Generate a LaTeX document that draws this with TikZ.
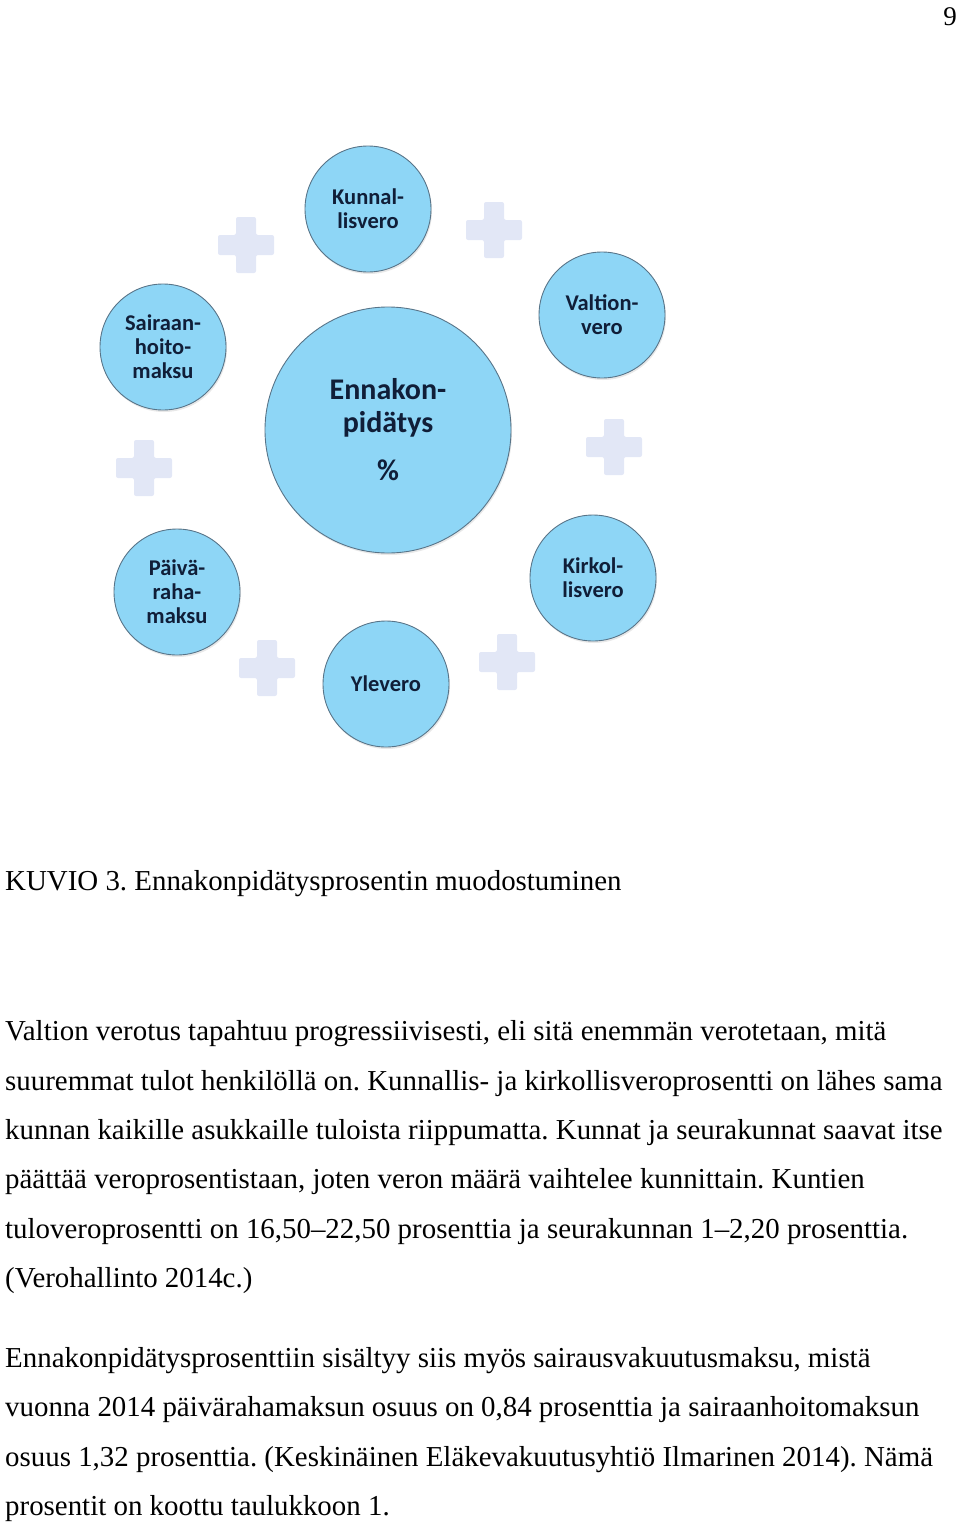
\documentclass[tikz,border=0pt]{standalone}
\usepackage{fontspec}
\setmainfont{Liberation Serif}
\newfontfamily\circfont{Carlito}
\usetikzlibrary{shadows}
\definecolor{circfill}{RGB}{142,214,246}
\definecolor{circline}{RGB}{88,116,136}
\definecolor{circtext}{RGB}{16,30,56}
\definecolor{plusfill}{RGB}{226,231,246}
\frenchspacing

\begin{document}
\begin{tikzpicture}[x=1pt,y=-1pt,
    taxcirc/.style={circle,draw=circline,line width=0.9pt,fill=circfill,inner sep=0pt,
      minimum size=126pt,align=center,text=circtext,
      font=\circfont\bfseries\fontsize{22.5}{24}\selectfont,
      drop shadow={shadow xshift=1pt,shadow yshift=-2pt,opacity=0.18}},
    bigcirc/.style={taxcirc,minimum size=246pt,font=\circfont\bfseries\fontsize{30}{33}\selectfont},
    bodyline/.style={anchor=base west,inner sep=0pt,font=\fontsize{28.9}{29}\selectfont}]
        \useasboundingbox (0,0) rectangle (960,1523);
        \node[anchor=base east,inner sep=0pt,font=\fontsize{27}{27}\selectfont] (pagenum) at (957,25) {9};
        \foreach \px/\py in {246/245,494/230,144/468,614/447,267/668,507/662} {
          \fill[plusfill,rounded corners=2pt,shift={(\px,\py)}]
            (-10,-28) -- (10,-28) -- (10,-10) -- (28,-10) -- (28,10) -- (10,10) -- (10,28)
            -- (-10,28) -- (-10,10) -- (-28,10) -- (-28,-10) -- (-10,-10) -- cycle;
        }
        \node[bigcirc] (ennakko) at (388,430) {Ennakon-\\pidätys\\[15pt]\%};
        \node[taxcirc] (kunnallis) at (368,209) {Kunnal-\\lisvero};
        \node[taxcirc] (valtion) at (602,315) {Valtion-\\vero};
        \node[taxcirc] (sairaanhoito) at (163,347) {Sairaan-\\hoito-\\maksu};
        \node[taxcirc] (paiva) at (177,592) {Päivä-\\raha-\\maksu};
        \node[taxcirc] (kirkollis) at (593,578) {Kirkol-\\lisvero};
        \node[taxcirc] (yle) at (386,684) {Ylevero};
        \node[bodyline] (caption) at (5,890) {KUVIO 3. Ennakonpidätysprosentin muodostuminen};
        \node[bodyline] (p1) at (5,1040) {Valtion verotus tapahtuu progressiivisesti, eli sitä enemmän verotetaan, mitä};
        \node[bodyline] (p2) at (5,1090) {suuremmat tulot henkilöllä on. Kunnallis- ja kirkollisveroprosentti on lähes sama};
        \node[bodyline] (p3) at (5,1139) {kunnan kaikille asukkaille tuloista riippumatta. Kunnat ja seurakunnat saavat itse};
        \node[bodyline] (p4) at (5,1188) {päättää veroprosentistaan, joten veron määrä vaihtelee kunnittain. Kuntien};
        \node[bodyline] (p5) at (5,1238) {tuloveroprosentti on 16,50--22,50 prosenttia ja seurakunnan 1--2,20 prosenttia.};
        \node[bodyline] (p6) at (5,1287) {(Verohallinto 2014c.)};
        \node[bodyline] (q1) at (5,1367) {Ennakonpidätysprosenttiin sisältyy siis myös sairausvakuutusmaksu, mistä};
        \node[bodyline] (q2) at (5,1416) {vuonna 2014 päivärahamaksun osuus on 0,84 prosenttia ja sairaanhoitomaksun};
        \node[bodyline] (q3) at (5,1466) {osuus 1,32 prosenttia. (Keskinäinen Eläkevakuutusyhtiö Ilmarinen 2014). Nämä};
        \node[bodyline] (q4) at (5,1515) {prosentit on koottu taulukkoon 1.};
      \end{tikzpicture}
\end{document}
